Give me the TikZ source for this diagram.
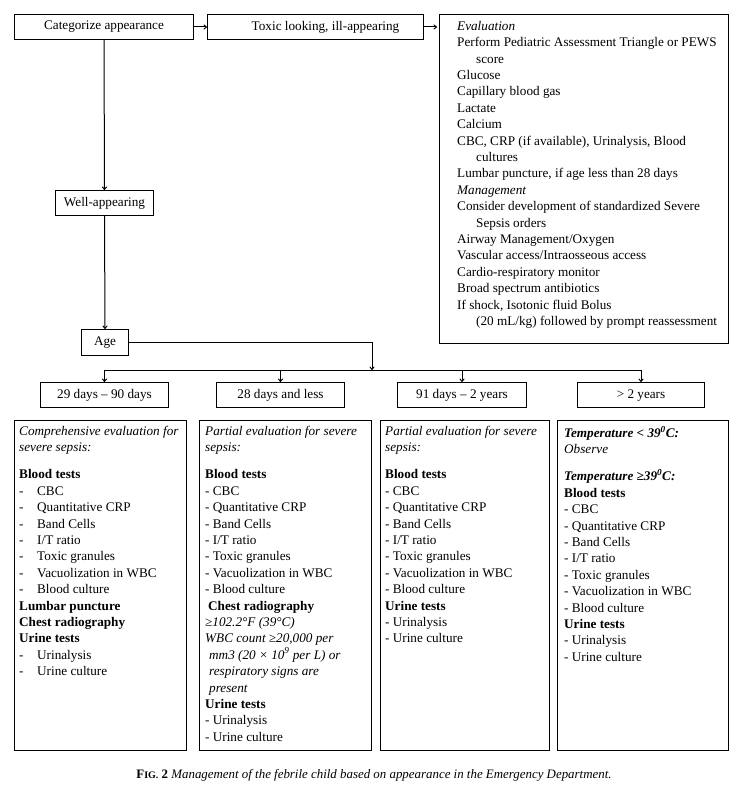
\documentclass[tikz,border=0pt]{standalone}
\usepackage{fontspec}
\setmainfont{Liberation Serif}
\usetikzlibrary{arrows.meta}
\newcommand\myind{\hspace*{19bp}}
\newcommand\mydsh{\makebox[18bp][l]{-}}
\begin{document}
\begin{tikzpicture}[x=1bp,y=-1bp,
  box/.style={draw, line width=1bp, inner sep=0pt, anchor=north west, font=\fontsize{13.2bp}{16.4bp}\selectfont},
  txt/.style={inner sep=0pt, anchor=north west, align=left, font=\fontsize{13.2bp}{16.4bp}\selectfont},
  arr/.style={-{To[length=3.5bp,width=5bp]}, line width=1bp}]
\useasboundingbox (0,0) rectangle (738,792);
% top row
\node[box, minimum width=179bp, minimum height=25bp] (cat) at (14,14) {Categorize appearance};
\node[box, minimum width=216bp, minimum height=25bp] (tox) at (207,14) {\hspace*{20bp}Toxic looking, ill-appearing};
\node[box, minimum width=289bp, minimum height=329bp] (ev) at (439,14) {};
\node[txt] (evt) at ([shift={(18,7)}]ev.north west) {%
\textit{Evaluation}\\
Perform Pediatric Assessment Triangle or PEWS\\
\myind score\\
Glucose\\
Capillary blood gas\\
Lactate\\
Calcium\\
CBC, CRP (if available), Urinalysis, Blood\\
\myind cultures\\
Lumbar puncture, if age less than 28 days\\
\textit{Management}\\
Consider development of standardized Severe\\
\myind Sepsis orders\\
Airway Management/Oxygen\\
Vascular access/Intraosseous access\\
Cardio-respiratory monitor\\
Broad spectrum antibiotics\\
If shock, Isotonic fluid Bolus\\
\myind (20 mL/kg) followed by prompt reassessment};
\node[box, minimum width=98bp, minimum height=25bp] (well) at (55,190) {Well-appearing};
\node[box, minimum width=47bp, minimum height=26bp] (age) at (81,329) {Age};
% level boxes
\node[box, minimum width=128bp, minimum height=25bp] (l1) at (40,382) {29 days -- 90 days};
\node[box, minimum width=128bp, minimum height=25bp] (l2) at (216,382) {28 days and less};
\node[box, minimum width=129bp, minimum height=25bp] (l3) at (397,382) {91 days -- 2 years};
\node[box, minimum width=127bp, minimum height=25bp] (l4) at (577,382) {\strut{>} 2 years};
% connectors
\draw[arr] (cat.east) -- (tox.west);
\draw[arr] (tox.east) -- ([xshift=-2bp]tox.east -| ev.west);
\draw[arr] (cat.south) -- (well.north);
\draw[arr] (well.south) -- (age.north);
\coordinate (bus) at (372,370);
\draw[arr] (age.east) -| (bus);
\draw[line width=1bp] (l1.north |- bus) -- (l4.north |- bus);
\foreach \n in {l1,l2,l3,l4} \draw[arr] (\n.north |- bus) -- (\n.north);
% bottom boxes
\node[box, minimum width=172bp, minimum height=330bp] (b1) at (14,420) {};
\node[box, minimum width=172bp, minimum height=330bp] (b2) at (199,420) {};
\node[box, minimum width=169bp, minimum height=330bp] (b3) at (380,420) {};
\node[box, minimum width=171bp, minimum height=330bp] (b4) at (557,420) {};
\node[txt] (t1) at ([shift={(5,6)}]b1.north west) {%
\textit{Comprehensive evaluation for}\\
\textit{severe sepsis:}\\[10.5bp]
\textbf{Blood tests}\\
\mydsh CBC\\
\mydsh Quantitative CRP\\
\mydsh Band Cells\\
\mydsh I/T ratio\\
\mydsh Toxic granules\\
\mydsh Vacuolization in WBC\\
\mydsh Blood culture\\
\textbf{Lumbar puncture}\\
\textbf{Chest radiography}\\
\textbf{Urine tests}\\
\mydsh Urinalysis\\
\mydsh Urine culture};
\node[txt] (t2) at ([shift={(6,6)}]b2.north west) {%
\textit{Partial evaluation for severe}\\
\textit{sepsis:}\\[10.5bp]
\textbf{Blood tests}\\
- CBC\\
- Quantitative CRP\\
- Band Cells\\
- I/T ratio\\
- Toxic granules\\
- Vacuolization in WBC\\
- Blood culture\\
\hspace*{3bp}\textbf{Chest radiography}\\
\textit{≥102.2°F (39°C)}\\
\textit{WBC count ≥20,000 per}\\
\hspace*{4bp}\textit{mm3 (20 × 10\textsuperscript{9} per L) or}\\
\hspace*{4bp}\textit{respiratory signs are}\\
\hspace*{4bp}\textit{present}\\
\textbf{Urine tests}\\
- Urinalysis\\
- Urine culture};
\node[txt] (t3) at ([shift={(5,6)}]b3.north west) {%
\textit{Partial evaluation for severe}\\
\textit{sepsis:}\\[10.5bp]
\textbf{Blood tests}\\
- CBC\\
- Quantitative CRP\\
- Band Cells\\
- I/T ratio\\
- Toxic granules\\
- Vacuolization in WBC\\
- Blood culture\\
\textbf{Urine tests}\\
- Urinalysis\\
- Urine culture};
\node[txt] (t4) at ([shift={(7,6)}]b4.north west) {%
\textit{\textbf{Temperature < 39\textsuperscript{0}C:}}\\
\textit{Observe}\\[10.5bp]
\textit{\textbf{Temperature ≥39\textsuperscript{0}C:}}\\
\textbf{Blood tests}\\
- CBC\\
- Quantitative CRP\\
- Band Cells\\
- I/T ratio\\
- Toxic granules\\
- Vacuolization in WBC\\
- Blood culture\\
\textbf{Urine tests}\\
- Urinalysis\\
- Urine culture};
% caption
\node[inner sep=0pt, font=\fontsize{12.9bp}{14bp}\selectfont] (cap) at (374,775) {\textbf{F{\fontsize{10bp}{10bp}\selectfont IG.} 2} \textit{Management of the febrile child based on appearance in the Emergency Department.}};
\end{tikzpicture}
\end{document}
